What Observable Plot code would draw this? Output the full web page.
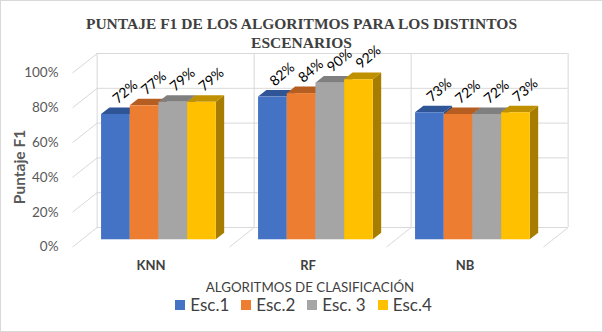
<!DOCTYPE html>
<html>
<head>
<meta charset="utf-8">
<script src="https://cdn.jsdelivr.net/npm/d3@7"></script>
<script src="https://cdn.jsdelivr.net/npm/@observablehq/plot@0.6"></script>
<style>
  html, body { margin: 0; padding: 0; background: #fff; }
  #wrap { position: relative; width: 603px; height: 332px; overflow: hidden; background: #fff; }
  #title { position: absolute; top: 13.5px; left: 0; width: 603px; text-align: center;
    font: bold 15.5px "Liberation Serif", "Times New Roman", serif; line-height: 19px; color: #404040; }
  #chart { position: absolute; top: 46px; left: 0; }
  #legend { position: absolute; top: 295px; left: 2px; width: 603px; display: flex; justify-content: center;
    align-items: center; font: 17px Lato, sans-serif; line-height: 20px; color: #404040; }
  #legend .item { display: flex; align-items: center; margin: 0 6px; }
  #legend .sw { width: 10px; height: 10px; margin-right: 5px; }
  #frame { position: absolute; left: 0; top: 0; width: 603px; height: 332px; box-sizing: border-box;
    border: 1px solid #d9d9d9; pointer-events: none; }
</style>
</head>
<body>
<div id="wrap">
  <div id="title">PUNTAJE F1 DE LOS ALGORITMOS PARA LOS DISTINTOS<br>ESCENARIOS</div>
  <div id="chart"></div>
  <div id="legend"></div>
  <div id="frame"></div>
</div>
<script>
// ---- data ----
const categories = ["KNN", "RF", "NB"];
const series = ["Esc.1", "Esc.2", "Esc. 3", "Esc.4"];
const knnValues = [0.72, 0.77, 0.79, 0.79];
const rfValues = [0.82, 0.84, 0.90, 0.92];
const nbValues = [0.73, 0.72, 0.72, 0.73];
const yTicks = [0, 0.2, 0.4, 0.6, 0.8, 1.0];
const frontColors = ["#4472C4", "#ED7D31", "#A5A5A5", "#FFC000"];
const topColors = ["#2F5597", "#B65D22", "#7F7F7F", "#BF9000"];
const sideColors = ["#284A84", "#9E501D", "#6E6E6E", "#A67D00"];
const xTitle = "ALGORITMOS DE CLASIFICACIÓN";
const yTitle = "Puntaje F1";

// ---- 3D geometry (in scale units) ----
const DX = 0.157;   // floor depth, category units
const DY = 0.112;   // floor depth, value units
const T0 = 0.37, T1 = 0.71;  // bar front / back depth fractions
const OFF = 0.127, BW = 0.1827;

const valuesByCat = [knnValues, rfValues, nbValues];
const bars = [];
categories.forEach((c, i) => {
  valuesByCat[i].forEach((v, j) => {
    const x0 = i + OFF + j * BW + T0 * DX;
    bars.push({id: c + j, cat: c, ser: series[j], v, x0, j});
  });
});
const dX = (T1 - T0) * DX, dY = (T1 - T0) * DY;
const tops = bars.flatMap(b => [
  {id: b.id, y: b.v + T0 * DY, x1: b.x0, x2: b.x0 + BW, fill: topColors[b.j]},
  {id: b.id, y: b.v + T1 * DY, x1: b.x0 + dX, x2: b.x0 + BW + dX, fill: topColors[b.j]}
]);
const sides = bars.flatMap(b => [
  {id: b.id, x: b.x0 + BW, y1: T0 * DY, y2: b.v + T0 * DY, fill: sideColors[b.j]},
  {id: b.id, x: b.x0 + BW + dX, y1: T1 * DY, y2: b.v + T1 * DY, fill: sideColors[b.j]}
]);
const catEdges = d3.range(categories.length + 1);
const grid = "#d9d9d9";

const chart = Plot.plot({
  width: 603,
  height: 250,
  x: {domain: [0, 3], range: [72, 543], axis: null},
  y: {domain: [0, 1], range: [200.5, 26.5], axis: null},
  color: {type: "identity"},
  style: {fontFamily: "Lato, sans-serif", background: "transparent", overflow: "visible"},
  marks: [
    // back wall horizontal gridlines
    Plot.ruleY(yTicks, {y: d => d + DY, x1: DX, x2: 3 + DX, stroke: grid, strokeWidth: 1}),
    // back wall vertical lines
    Plot.ruleX(catEdges, {x: d => d + DX, y1: DY, y2: 1 + DY, stroke: grid, strokeWidth: 1}),
    // side wall diagonals
    Plot.link(yTicks, {x1: 0, y1: d => d, x2: DX, y2: d => d + DY, stroke: grid, strokeWidth: 1}),
    // floor diagonals
    Plot.link(catEdges.slice(1), {x1: d => d, y1: 0, x2: d => d + DX, y2: DY, stroke: grid, strokeWidth: 1}),
    // bars: side faces, top faces, front faces
    Plot.areaY(sides, {x: "x", y1: "y1", y2: "y2", z: "id", fill: "fill"}),
    Plot.areaX(tops, {y: "y", x1: "x1", x2: "x2", z: "id", fill: "fill"}),
    Plot.rectY(bars, {x1: d => d.x0, x2: d => d.x0 + BW, y1: T0 * DY, y2: d => d.v + T0 * DY,
      fill: d => frontColors[d.j], inset: 0}),
    // data labels
    Plot.text(bars, {x: d => d.x0 + BW / 2 + dX, y: d => d.v + T1 * DY,
      text: d => Math.round(d.v * 100) + "%", rotate: -40, dy: -16, dx: 1, fontSize: 14, fill: "#000"}),
    // y tick labels
    Plot.text(yTicks, {x: 0, y: d => d, text: d => Math.round(d * 100) + "%", textAnchor: "end",
      dx: -14, fontSize: 13.5, fill: "#595959"}),
    // category labels
    Plot.text(categories, {x: (d, i) => i + 0.5, y: 0, dy: 19, text: d => d, fontSize: 13,
      fontWeight: "bold", fill: "#404040"}),
    // axis titles
    Plot.text([xTitle], {x: 1.5, y: 0, dy: 40.5, dx: 2, text: d => d, fontSize: 13.3, fill: "#404040"}),
    Plot.text([yTitle], {x: 0, y: 0.5, dx: -52, dy: 7, rotate: -90, text: d => d, fontSize: 15.5,
      fontWeight: "bold", fill: "#595959"})
  ]
});
document.getElementById("chart").appendChild(chart);

// legend
const legend = document.getElementById("legend");
series.forEach((s, j) => {
  const it = document.createElement("div");
  it.className = "item";
  const sw = document.createElement("span");
  sw.className = "sw";
  sw.style.background = frontColors[j];
  const lab = document.createElement("span");
  lab.textContent = s;
  it.appendChild(sw); it.appendChild(lab);
  legend.appendChild(it);
});
</script>
</body>
</html>
